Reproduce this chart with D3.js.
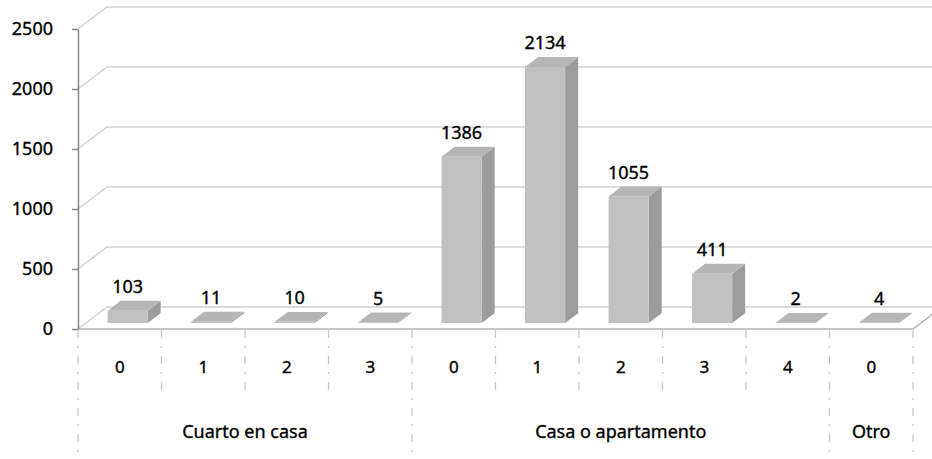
<!DOCTYPE html>
<html>
<head>
<meta charset="utf-8">
<script src="https://cdn.jsdelivr.net/npm/d3@7"></script>
<style>
  html, body { margin: 0; padding: 0; background: #fff; }
  svg { display: block; }
  text { font-family: "Noto Sans", "Open Sans", sans-serif; fill: #000; stroke: #000; stroke-width: 0.35px; }
</style>
</head>
<body>
<svg id="chart" width="932" height="459"></svg>
<script>
// ---- data ----
const categories = ["0", "1", "2", "3", "0", "1", "2", "3", "4", "0"];
const groupOf    = [0, 0, 0, 0, 1, 1, 1, 1, 1, 2];
const groupNames = ["Cuarto en casa", "Casa o apartamento", "Otro"];
const values     = [103, 11, 10, 5, 1386, 2134, 1055, 411, 2, 4];
const yTicks     = [0, 500, 1000, 1500, 2000, 2500];

// ---- layout ----
const W = 932, H = 459;
const plotLeft = 78, plotRight = 913, plotBase = 329, plotTop = 29;
const depthX = 29, depthY = -22;         // oblique depth of the floor
const zFront = 0.27, zBack = 0.72;       // bar depth position (fraction)
const FONT = '"Noto Sans", "Open Sans", sans-serif';

const svg = d3.select("#chart");
const keys = categories.map((c, i) => i);
const x = d3.scaleBand().domain(keys).range([plotLeft, plotRight]).padding(0);
const y = d3.scaleLinear().domain([0, 2500]).range([plotBase, plotTop]);

// back-wall gridlines (with diagonal on the left side wall edge)
const grid = svg.append("g");
yTicks.forEach(t => {
  const yy = y(t);
  grid.append("path")
    .attr("d", `M${plotLeft},${yy}L${plotLeft + depthX},${yy + depthY}L${plotRight + depthX + 5},${yy + depthY}`)
    .attr("fill", "none").attr("stroke", "#d2d2d2").attr("stroke-width", 1.5);
});

// floor front edge and right diagonal
svg.append("path")
  .attr("d", `M${plotLeft},${plotBase}L${plotRight},${plotBase}L${plotRight + depthX},${plotBase + depthY}`)
  .attr("fill", "none").attr("stroke", "#b4b4b4").attr("stroke-width", 1.5);

// bars
const bw = x.bandwidth() * 0.48;
const fdx = zFront * depthX, fdy = zFront * depthY;
const ddx = (zBack - zFront) * depthX, ddy = (zBack - zFront) * depthY;
const bars = svg.append("g");
values.forEach((v, i) => {
  const bx = x(i) + x.bandwidth() / 2 - bw / 2 + fdx;
  const yb = y(0) + fdy;
  const yt = y(v) + fdy;
  const g = bars.append("g");
  // side
  g.append("path")
    .attr("d", `M${bx + bw},${yt}L${bx + bw + ddx},${yt + ddy}L${bx + bw + ddx},${yb + ddy}L${bx + bw},${yb}Z`)
    .attr("fill", "#9c9c9c");
  // front
  g.append("rect").attr("x", bx).attr("y", yt).attr("width", bw).attr("height", Math.max(0, yb - yt))
    .attr("fill", "#c0c0c0");
  // top
  g.append("path")
    .attr("d", `M${bx},${yt}L${bx + ddx},${yt + ddy}L${bx + bw + ddx},${yt + ddy}L${bx + bw},${yt}Z`)
    .attr("fill", "#b6b6b6");
  // value label
  g.append("text")
    .attr("x", bx + bw / 2)
    .attr("y", yt + ddy - 8)
    .attr("text-anchor", "middle")
    .attr("font-size", 18)
    .text(v);
});

// y axis
const yAxis = svg.append("g")
  .attr("transform", `translate(${plotLeft},0)`)
  .call(d3.axisLeft(y).tickValues(yTicks).tickFormat(d3.format("d"))
    .tickSize(6).tickPadding(19).tickSizeOuter(0));
yAxis.select(".domain").attr("stroke", "#868686").attr("stroke-width", 1.5);
yAxis.selectAll(".tick line").attr("stroke", "#868686").attr("stroke-width", 1.5);
yAxis.selectAll(".tick text")
  .attr("font-family", FONT)
  .attr("font-size", 18).attr("fill", "#000");

// category labels (first level)
const xAxis = svg.append("g")
  .attr("transform", `translate(0,${plotBase})`)
  .call(d3.axisBottom(x).tickSize(0).tickFormat(i => categories[i]));
xAxis.select(".domain").remove();
xAxis.selectAll(".tick text")
  .attr("font-family", FONT)
  .attr("font-size", 17).attr("fill", "#000")
  .attr("y", 38).attr("dy", "0.35em");

// separators
const seps = svg.append("g");
for (let i = 0; i <= categories.length; i++) {
  const xx = i < categories.length ? x(i) : plotRight;
  const isGroupEdge = i === 0 || i === categories.length || groupOf[i] !== groupOf[i - 1];
  seps.append("line")
    .attr("x1", xx).attr("x2", xx)
    .attr("y1", plotBase + 1).attr("y2", isGroupEdge ? H : 392)
    .attr("stroke", "#c4c4c4").attr("stroke-width", 1.2)
    .attr("stroke-dasharray", "8,8,2,8");
}

// group labels (second level)
groupNames.forEach((name, gi) => {
  const idx = keys.filter(i => groupOf[i] === gi);
  const x0 = x(idx[0]), x1 = x(idx[idx.length - 1]) + x.bandwidth();
  svg.append("text")
    .attr("x", (x0 + x1) / 2).attr("y", 432).attr("dy", "0.35em")
    .attr("text-anchor", "middle").attr("font-size", 18)
    .text(name);
});
</script>
</body>
</html>
